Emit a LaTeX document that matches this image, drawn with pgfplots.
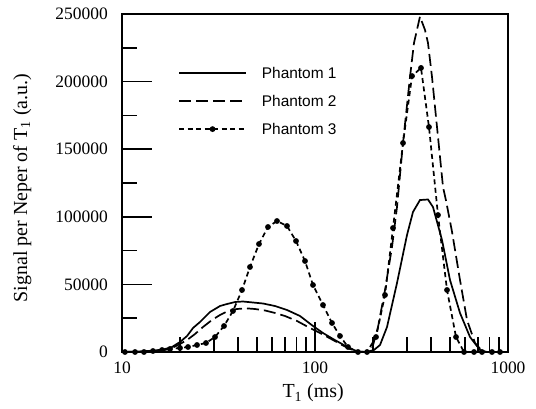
\documentclass[border=0pt]{standalone}
\usepackage{fontspec}
\setmainfont{Liberation Serif}
\newfontfamily\arial{Liberation Sans}
\usepackage{pgfplots}
\pgfplotsset{compat=1.18}
\begin{document}
\begin{tikzpicture}
\path[use as bounding box] (0,0) rectangle (536bp,409bp);
\begin{axis}[
  at={(122bp,57bp)}, anchor=south west,
  scale only axis, width=386bp, height=338bp,
  xmode=log, xmin=10, xmax=1000, ymin=0, ymax=250000,
  scaled y ticks=false,
  axis line style={line width=1.6bp},
  major tick style={black, line width=1.6bp},
  minor tick style={black, line width=1.6bp},
  xtick align=inside, ytick align=inside, tick pos=left,
  major tick length=30bp, minor tick length=15bp,
  xtick={10,100,1000}, xticklabels={10,100,1000},
  minor xtick={20,30,40,50,60,70,80,90,200,300,400,500,600,700,800,900},
  ytick={0,50000,100000,150000,200000,250000},
  yticklabels={0,50000,100000,150000,200000,250000},
  minor ytick={25000,75000,125000,175000,225000},
  /pgf/number format/assume math mode=true,
  ticklabel style={font=\fontsize{17.5}{20}\selectfont},
  xticklabel style={inner sep=0pt, yshift=-10bp},
  yticklabel style={inner sep=0pt, xshift=-14bp},
  xlabel={T\textsubscript{1} (ms)},
  ylabel={Signal per Neper of T\textsubscript{1} (a.u.)},
  label style={font=\fontsize{20}{24}\selectfont},
  xlabel style={at={(axis description cs:0.495,-0.136)}, anchor=base, inner sep=0pt},
  ylabel style={at={(axis description cs:-0.246,0.485)}, anchor=base, inner sep=0pt},
  legend style={at={(axis description cs:0.145,0.842)}, anchor=north west, draw=none, fill=none,
    font=\arial\fontsize{15.5}{18}\selectfont, row sep=17bp, inner sep=0pt,
    nodes={inner sep=0pt, text height=11bp, text depth=0bp}},
  legend cell align=left,
  legend image code/.code={\draw[mark repeat=2, mark phase=2, #1] plot coordinates {(0bp,0bp) (33.5bp,0bp) (67bp,0bp)}; \path (82bp,0bp);},
]
% Phantom 1
\addplot[black, line width=1.7bp, solid] coordinates {
(10.12,0) (12.40,370) (14.83,1110) (16.71,2220) (18.16,3700) (19.98,7400)
(21.72,11830) (23.33,17750) (25.36,22190) (28.58,29590) (32.20,34020)
(34.99,35500) (38.51,36980) (42.36,37350) (47.72,36610) (53.78,35870)
(62.06,34020) (71.61,31070) (83.61,26630) (97.64,19230) (110.0,14050)
(123.97,9620) (138.0,5920) (151.8,2590) (167.0,370) (183.8,0) (202.2,1480)
(217.2,5180) (236.1,18490) (266.0,51040) (299.7,86540) (322.0,103600)
(349.9,112400) (385.0,112800) (408.7,107200) (455.0,82840) (500.6,53250)
(564.0,28850) (635.5,11090) (716.1,1480) (778.3,0) (908.9,0)
};
\addlegendentry{Phantom 1}
% Phantom 2
\addplot[black, line width=1.7bp, dash pattern=on 12bp off 5bp] coordinates {
(10.12,0) (12.40,370) (14.83,740) (16.71,1480) (18.16,2960) (19.98,5920)
(21.72,8880) (23.89,13310) (26.28,18490) (29.26,23670) (32.19,27370)
(35.42,30330) (39.43,31800) (43.90,32320) (48.88,31800) (55.07,30700)
(62.05,28850) (69.91,26630) (80.68,22930) (94.21,17750) (106.15,14050)
(123.97,8880) (138.0,5180) (151.8,2220) (167.0,370) (183.8,0) (197.4,2220)
(212.05,18490) (230.5,45860) (250.6,77660) (266.0,107200) (285.7,154600)
(310.6,203400) (325.8,228600) (349.9,248100) (371.5,238200) (385.0,228600)
(403.9,203400) (428.7,166400) (460.5,122000) (477.3,112000) (512.7,89000)
(564.0,53250) (613.2,23670) (674.6,6660) (742.1,0) (908.9,0)
};
\addlegendentry{Phantom 2}
% Phantom 3
\addplot[black, line width=1.7bp, dash pattern=on 5bp off 3.5bp, mark=*, mark size=2bp, mark options={solid}] coordinates {
(10.36,0) (11.68,0) (13.00,0) (14.47,740) (16.12,1480) (17.73,2220)
(19.98,2960) (21.98,3700) (24.47,5180) (27.24,6660) (30.33,11090)
(33.77,19230) (37.59,30330) (41.86,45860) (46.04,62870) (51.26,79880)
(57.07,92460) (63.54,96890) (71.60,93200) (79.72,82100) (88.75,67310)
(97.63,49560) (110.0,34760) (122.5,21450) (134.7,11830) (148.3,3700)
(167.0,0) (186.0,0) (207.1,11090) (230.5,42160) (253.6,91720)
(285.8,154600) (318.2,204100) (354.2,210100) (389.6,166400) (433.8,101300)
(483.0,45860) (537.8,11090) (591.6,0) (666.6,0) (733.3,0) (826.2,0) (908.9,0)
};
\addlegendentry{Phantom 3}
\end{axis}
\end{tikzpicture}
\end{document}
